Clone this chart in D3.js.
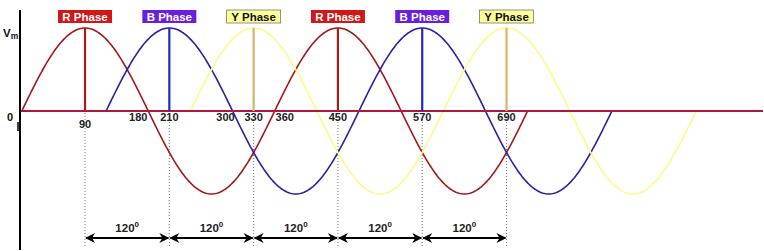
<!DOCTYPE html>
<html>
<head>
<meta charset="utf-8">
<script src="https://cdn.jsdelivr.net/npm/d3@7"></script>
<style>
  body { margin: 0; background: #fff; }
  svg { display: block; font-family: "Liberation Sans", Arial, sans-serif; }
</style>
</head>
<body>
<svg id="chart" width="764" height="251"></svg>
<script>
// phases: name, start angle (deg), end angle (deg)
const phases = ['R', 'B', 'Y'];
const phaseStart = [0, 120, 240];
const phaseEnd = [720, 840, 960];
const phaseColor = { R: '#a11a1a', B: '#2f1fa3', Y: '#fbfb8c' };
const peakLineColor = { R: '#a81c1c', B: '#1f2bb8', Y: '#d9b26a' };

// peak markers along the top
const peakAngles = [90, 210, 330, 450, 570, 690];
const peakPhase = ['R', 'B', 'Y', 'R', 'B', 'Y'];

// x tick labels
const tickValues = [90, 180, 210, 300, 330, 360, 450, 570, 690];

// spacing labels under the arrows
const spacingLabel = '120';

const svg = d3.select('#chart');

const x = d3.scaleLinear().domain([0, 720]).range([21.8, 527.6]);
const y = d3.scaleLinear().domain([-1, 1]).range([194, 28]);

// left vertical axis
svg.append('line')
    .attr('x1', 20).attr('x2', 20)
    .attr('y1', 10).attr('y2', 250)
    .attr('stroke', '#000').attr('stroke-width', 2);

// dotted guide lines
svg.append('g').selectAll('line')
    .data(peakAngles)
    .enter().append('line')
    .attr('x1', d => x(d)).attr('x2', d => x(d))
    .attr('y1', y(0) + 2).attr('y2', 248)
    .attr('stroke', '#777')
    .attr('stroke-width', 1)
    .attr('stroke-dasharray', '1,2');

// sine waves
phases.forEach((p, i) => {
    const start = phaseStart[i];
    const pts = d3.range(start, phaseEnd[i] + 0.5, 2);
    const line = d3.line()
        .x(d => x(d))
        .y(d => y(Math.sin((d - start) * Math.PI / 180)));
    svg.append('path')
        .attr('d', line(pts))
        .attr('fill', 'none')
        .attr('stroke', phaseColor[p])
        .attr('stroke-width', 1.6);
});

// zero line
svg.append('line')
    .attr('x1', 21).attr('x2', 763)
    .attr('y1', y(0)).attr('y2', y(0))
    .attr('stroke', '#b0173f').attr('stroke-width', 2);

// peak vertical lines
svg.append('g').selectAll('line')
    .data(peakAngles)
    .enter().append('line')
    .attr('x1', d => x(d)).attr('x2', d => x(d))
    .attr('y1', y(1)).attr('y2', y(0))
    .attr('stroke', (d, i) => peakLineColor[peakPhase[i]])
    .attr('stroke-width', 2.2);

// phase name boxes
const boxFill = { R: '#d01818', B: '#6a1ee0', Y: '#ffff99' };
const boxText = { R: '#fff', B: '#fff', Y: '#111' };
const boxes = svg.append('g').selectAll('g')
    .data(peakAngles)
    .enter().append('g')
    .attr('transform', d => `translate(${x(d)},16.5)`);
boxes.append('rect')
    .attr('x', -27).attr('y', -6.5)
    .attr('width', 54).attr('height', 13)
    .attr('fill', (d, i) => boxFill[peakPhase[i]])
    .attr('stroke', (d, i) => peakPhase[i] === 'Y' ? '#777' : 'none')
    .attr('stroke-width', 0.8);
boxes.append('text')
    .attr('text-anchor', 'middle')
    .attr('dy', '0.36em')
    .attr('font-size', 11.5)
    .attr('font-weight', 'bold')
    .attr('fill', (d, i) => boxText[peakPhase[i]])
    .text((d, i) => peakPhase[i] + ' Phase');

// Vm label
const vm = svg.append('text').attr('x', 3).attr('y', 37)
    .attr('font-size', 11.5).attr('font-weight', 'bold').attr('fill', '#111');
vm.append('tspan').text('V');
vm.append('tspan').attr('font-size', 8.5).attr('dy', 2).text('m');

// zero label
svg.append('text').attr('x', 10).attr('y', 121)
    .attr('text-anchor', 'middle')
    .attr('font-size', 11).attr('font-weight', 'bold').attr('fill', '#111')
    .text('0');
svg.append('line')
    .attr('x1', 18).attr('x2', 18).attr('y1', 122).attr('y2', 131)
    .attr('stroke', '#000').attr('stroke-width', 1.5);

// tick labels (shift a few so they sit beside the wave crossings)
const tickShift = { 180: -10, 300: -7, 360: 10 };
svg.append('g').selectAll('text')
    .data(tickValues)
    .enter().append('text')
    .attr('x', d => x(d) + (tickShift[d] || 0))
    .attr('y', d => d === 90 ? 128 : 121)
    .attr('text-anchor', 'middle')
    .attr('font-size', 11)
    .attr('font-weight', 'bold')
    .attr('fill', '#222')
    .text(d => d);

// arrows between peaks
const defs = svg.append('defs');
defs.append('marker')
    .attr('id', 'arr')
    .attr('viewBox', '0 0 10 10')
    .attr('refX', 9).attr('refY', 5)
    .attr('markerWidth', 11).attr('markerHeight', 10)
    .attr('markerUnits', 'userSpaceOnUse')
    .attr('orient', 'auto-start-reverse')
    .append('path').attr('d', 'M0,0 L10,5 L0,10 L3,5 Z').attr('fill', '#000');

const gaps = d3.pairs(peakAngles);
svg.append('g').selectAll('line')
    .data(gaps)
    .enter().append('line')
    .attr('x1', d => x(d[0]) + 1).attr('x2', d => x(d[1]) - 1)
    .attr('y1', 238).attr('y2', 238)
    .attr('stroke', '#000').attr('stroke-width', 2)
    .attr('marker-start', 'url(#arr)')
    .attr('marker-end', 'url(#arr)');

const lbl = svg.append('g').selectAll('text')
    .data(gaps)
    .enter().append('text')
    .attr('x', d => (x(d[0]) + x(d[1])) / 2)
    .attr('y', 232)
    .attr('text-anchor', 'middle')
    .attr('font-size', 11.5).attr('font-weight', 'bold').attr('fill', '#222');
lbl.append('tspan').text(spacingLabel);
lbl.append('tspan').attr('font-size', 8).attr('dy', -5).text('0');
</script>
</body>
</html>
